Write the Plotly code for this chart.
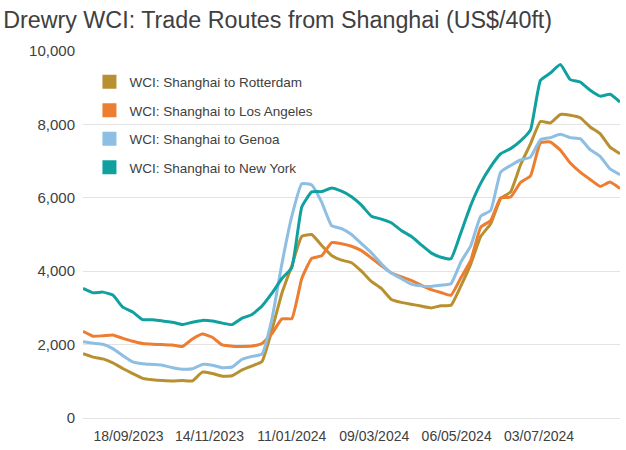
import pandas as pd
import plotly.graph_objects as go

# Weekly WCI dates (Thursdays)
dates = pd.date_range("2023-08-17", "2024-08-29", freq="7D")

rotterdam = [1750, 1660, 1610, 1500, 1350, 1210, 1080, 1040, 1020, 1010,
             1020, 1010, 1250, 1210, 1140, 1150, 1310, 1420, 1540, 2400,
             3400, 4150, 4950, 5000, 4700, 4430, 4300, 4230, 4000, 3720,
             3530, 3230, 3150, 3100, 3050, 3000, 3060, 3070, 3600, 4200,
             4950, 5290, 5980, 6160, 6900, 7470, 8080, 8040, 8270, 8250,
             8180, 7930, 7750, 7380, 7200]

los_angeles = [2360, 2230, 2240, 2260, 2170, 2090, 2030, 2010, 2000, 1990,
               1950, 2150, 2290, 2200, 1990, 1955, 1950, 1960, 2030, 2300,
               2700, 2710, 3800, 4350, 4420, 4780, 4750, 4680, 4560, 4360,
               4150, 3950, 3850, 3750, 3620, 3500, 3420, 3345, 3820, 4300,
               5200, 5380, 6000, 6020, 6420, 6600, 7500, 7520, 7300, 6950,
               6700, 6500, 6310, 6430, 6250]

genoa = [2080, 2040, 2010, 1890, 1700, 1530, 1480, 1460, 1440, 1370,
         1330, 1340, 1460, 1440, 1370, 1390, 1600, 1680, 1740, 2700,
         4200, 5500, 6380, 6350, 5880, 5240, 5160, 5000, 4750, 4500,
         4200, 3950, 3800, 3650, 3600, 3585, 3620, 3660, 4250, 4700,
         5500, 5660, 6700, 6880, 7030, 7110, 7580, 7640, 7730, 7640,
         7610, 7310, 7130, 6790, 6630]

new_york = [3530, 3410, 3430, 3350, 3020, 2890, 2680, 2680, 2640, 2610,
            2545, 2610, 2660, 2640, 2585, 2545, 2720, 2820, 3050, 3400,
            3800, 4100, 5750, 6160, 6170, 6270, 6180, 6030, 5800, 5500,
            5420, 5320, 5110, 4950, 4720, 4500, 4380, 4340, 5050, 5800,
            6400, 6850, 7200, 7340, 7550, 7850, 9200, 9400, 9630, 9220,
            9155, 8930, 8770, 8820, 8610]

series_names = ["WCI: Shanghai to Rotterdam", "WCI: Shanghai to Los Angeles",
                "WCI: Shanghai to Genoa", "WCI: Shanghai to New York"]
series_values = [rotterdam, los_angeles, genoa, new_york]
colors = ["#B8902F", "#ED7D31", "#8DBEE3", "#11A0A0"]

tick_dates = ["2023-09-18", "2023-11-14", "2024-01-11", "2024-03-09",
              "2024-05-06", "2024-07-03"]
tick_labels = ["18/09/2023", "14/11/2023", "11/01/2024", "09/03/2024",
               "06/05/2024", "03/07/2024"]

fig = go.Figure()
for name, vals, col in zip(series_names, series_values, colors):
    fig.add_trace(go.Scatter(
        x=dates, y=vals, mode="lines", name=name,
        line=dict(color=col, width=3, shape="spline", smoothing=0.4),
        showlegend=False, hoverinfo="skip"))
for i, (name, col) in enumerate(zip(series_names, colors)):
    fig.add_trace(go.Scatter(
        x=[None], y=[None], mode="markers", name=name,
        marker=dict(symbol="square", size=14, color=col),
        legendgroup=f"g{i}", showlegend=True))

fig.update_layout(
    width=626, height=450,
    margin=dict(l=83, r=6, t=51, b=32),
    paper_bgcolor="white", plot_bgcolor="white",
    font=dict(family="Liberation Sans, Arial, sans-serif", color="#404040"),
    title=dict(text="Drewry WCI: Trade Routes from Shanghai (US$/40ft)",
               x=0.005, xanchor="left", y=0.975, yanchor="top",
               font=dict(size=23.3, color="#404040")),
    legend=dict(x=0.012, xanchor="left", y=0.958, yanchor="top",
                font=dict(size=13.5, color="#404040"),
                traceorder="grouped", tracegroupgap=8,
                bgcolor="rgba(0,0,0,0)"),
    xaxis=dict(type="date", range=["2023-08-17", "2024-08-29"],
               tickvals=tick_dates, ticktext=tick_labels,
               showgrid=False, showline=False, zeroline=False,
               automargin=False, ticks="", ticklabelstandoff=8,
               tickfont=dict(size=14, color="#404040")),
    yaxis=dict(range=[0, 10000], tickvals=[0, 2000, 4000, 6000, 8000, 10000],
               tickformat=",d", showgrid=True, gridcolor="#E3E3E3",
               gridwidth=1, zeroline=True, zerolinecolor="#E3E3E3",
               zerolinewidth=1, showline=False, ticks="",
               automargin=False, ticklabelstandoff=7,
               tickfont=dict(size=15, color="#404040")),
)

fig.write_html("out.html",
               config={"displayModeBar": False},
               post_script="document.body.style.margin='0px';")
